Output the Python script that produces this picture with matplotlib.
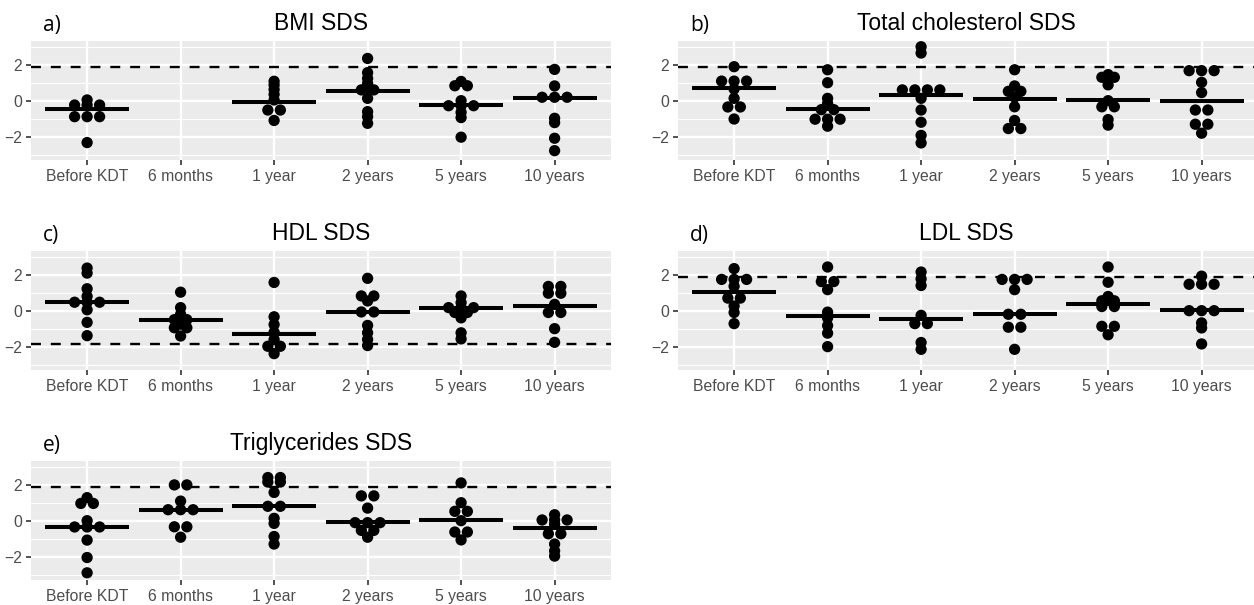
import numpy as np
import matplotlib.pyplot as plt

categories = ["Before KDT", "6 months", "1 year", "2 years", "5 years", "10 years"]

# SDS values per time point
bmi = [
    [0.04, -0.24, -0.24, -0.24, -0.89, -0.89, -0.89, -2.33],
    [],
    [1.08, 0.87, 0.62, 0.35, 0.04, -0.52, -0.52, -1.1],
    [2.35, 1.56, 1.24, 0.96, 0.6, 0.6, 0.13, -0.61, -0.89, -1.26],
    [1.07, 0.83, 0.83, 0.0, -0.28, -0.28, -0.28, -0.65, -0.94, -2.03],
    [1.74, 0.82, 0.19, 0.19, 0.19, -0.98, -1.22, -2.09, -2.78],
]
bmi_med = [-0.45, None, -0.07, 0.56, -0.24, 0.13]

chol = [
    [1.89, 1.09, 1.09, 1.09, 0.65, 0.13, -0.35, -0.35, -1.02],
    [1.72, 1.0, 0.13, -0.15, -0.5, -0.5, -1.03, -1.03, -1.03, -1.42],
    [3.0, 2.65, 0.6, 0.6, 0.6, 0.6, 0.13, -0.52, -1.2, -1.93, -2.35],
    [1.72, 0.82, 0.52, 0.52, 0.2, -0.34, -1.1, -1.55, -1.55],
    [1.45, 1.3, 1.3, 0.88, 0.0, -0.34, -0.34, -1.05, -1.36],
    [1.67, 1.67, 1.67, 1.02, 0.45, -0.52, -0.52, -1.31, -1.31, -1.81],
]
chol_med = [0.68, -0.49, 0.34, 0.1, 0.04, -0.02]

hdl = [
    [2.37, 2.09, 1.22, 0.8, 0.47, 0.47, 0.47, 0.05, -0.65, -1.39],
    [1.03, 0.17, -0.2, -0.5, -0.5, -0.95, -0.95, -0.75, -1.41],
    [1.57, -0.34, -0.77, -1.2, -1.6, -1.98, -1.98, -2.39],
    [1.8, 0.82, 0.82, 0.54, -0.07, -0.07, -0.82, -1.23, -1.6, -1.94],
    [0.82, 0.45, 0.17, 0.17, 0.17, -0.1, -0.1, -0.4, -1.23, -1.57],
    [1.35, 1.35, 0.97, 0.97, 0.35, -0.1, -0.1, -1.0, -1.76],
]
hdl_med = [0.51, -0.52, -1.29, -0.07, 0.13, 0.26]

ldl = [
    [2.34, 1.74, 1.74, 1.74, 1.36, 0.7, 0.7, 0.26, -0.1, -0.72],
    [2.43, 1.62, 1.62, 1.17, -0.08, -0.4, -0.83, -1.25, -2.0],
    [2.15, 1.77, 1.4, -0.26, -0.72, -0.72, -1.77, -2.15],
    [1.74, 1.74, 1.74, 1.17, -0.2, -0.2, -0.92, -0.92, -2.15],
    [2.43, 1.58, 0.79, 0.55, 0.55, 0.23, 0.23, -0.87, -0.87, -1.34],
    [1.92, 1.47, 1.47, 1.47, 0.0, 0.0, 0.0, -0.68, -0.96, -1.85],
]
ldl_med = [1.06, -0.32, -0.49, -0.17, 0.36, 0.02]

tg = [
    [1.28, 0.96, 0.96, 0.0, -0.35, -0.35, -0.35, -1.08, -2.05, -2.9],
    [1.99, 1.99, 1.09, 0.61, 0.61, 0.61, -0.34, -0.34, -0.92],
    [2.4, 2.4, 2.15, 2.15, 1.57, 0.8, 0.8, 0.13, -0.15, -0.88, -1.3],
    [1.38, 1.38, 0.7, -0.11, -0.11, -0.11, -0.54, -0.54, -0.92],
    [2.1, 1.0, 0.52, 0.52, 0.0, -0.63, -0.63, -1.07],
    [0.33, 0.04, 0.04, 0.04, -0.2, -0.73, -0.73, -1.3, -1.68, -1.97],
]
tg_med = [-0.35, 0.61, 0.84, -0.08, 0.02, -0.38]

panels = [
    ("a)", "BMI SDS", bmi, bmi_med, 1.88),
    ("b)", "Total cholesterol SDS", chol, chol_med, 1.88),
    ("c)", "HDL SDS", hdl, hdl_med, -1.88),
    ("d)", "LDL SDS", ldl, ldl_med, 1.88),
    ("e)", "Triglycerides SDS", tg, tg_med, 1.88),
]

W, H = 1254, 605
fig = plt.figure(figsize=(W / 100, H / 100), dpi=100)

# pixel boxes: left, top, width (height is the same for all)
boxes = [(31, 41, 580), (678, 41, 576), (31, 251, 580), (678, 251, 576), (31, 461, 580)]
ph = 119
cat_px = 93.5
dot_step = 12.5 / cat_px   # horizontal spacing of stacked dots, in category units

for (lab, title, groups, meds, ref), (left, top, width) in zip(panels, boxes):
    ax = fig.add_axes([left / W, 1 - (top + ph) / H, width / W, ph / H])
    ax.set_facecolor("#EBEBEB")
    for s in ax.spines.values():
        s.set_visible(False)
    ax.set_xlim(-0.6, -0.6 + width / cat_px)
    ax.set_ylim(-3.3, 3.32)
    ax.set_yticks([-2, 0, 2])
    ax.set_yticks([-3, -1, 1, 3], minor=True)
    ax.set_xticks(range(len(categories)))
    ax.set_xticklabels(categories)
    ax.grid(which="major", color="white", lw=1.7, zorder=0)
    ax.grid(which="minor", axis="y", color="white", lw=0.85, zorder=0)
    ax.set_axisbelow(True)
    ax.tick_params(which="major", length=3.5, width=1.2, color="#333333",
                   labelcolor="#4D4D4D", labelsize=11.3, pad=2.8)
    ax.tick_params(which="minor", length=0)
    for t in ax.get_xticklabels() + ax.get_yticklabels():
        t.set_family("Liberation Sans")

    ax.axhline(ref, color="black", lw=1.7, ls=(0, (4.2, 4.2)), zorder=2)

    for i, vals in enumerate(groups):
        if not vals:
            continue
        v = np.array(vals)
        xs, ys = [], []
        for u in np.unique(v):
            n = int(np.sum(v == u))
            offs = (np.arange(n) - (n - 1) / 2) * dot_step
            xs.extend(i + offs)
            ys.extend([u] * n)
        ax.scatter(xs, ys, s=66, color="black", edgecolors="none", zorder=3)
        if meds[i] is not None:
            ax.plot([i - 0.45, i + 0.45], [meds[i], meds[i]], color="black",
                    lw=2.9, solid_capstyle="butt", zorder=4)

    fig.text((left + 12) / W, 1 - (top - 10) / H, lab, ha="left", va="baseline",
             fontsize=15, family="Open Sans")
    fig.text((left + width / 2) / W, 1 - (top - 11) / H, title, ha="center",
             va="baseline", fontsize=16.5, family="Liberation Sans")

fig.savefig("out.png", dpi=100)
